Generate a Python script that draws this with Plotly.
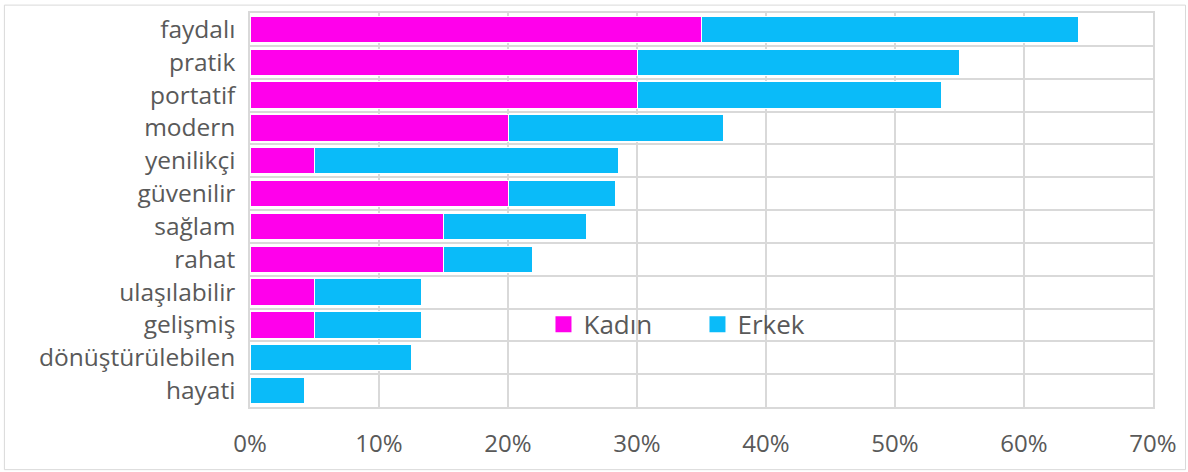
import plotly.graph_objects as go

# attributes, top to bottom as shown
words = ["faydalı", "pratik", "portatif", "modern", "yenilikçi", "güvenilir",
         "sağlam", "rahat", "ulaşılabilir", "gelişmiş", "dönüştürülebilen", "hayati"]
kadin = [35, 30, 30, 20, 5, 20, 15, 15, 5, 5, 0, 0]
erkek = [29.2, 25.0, 23.6, 16.7, 23.6, 8.3, 11.1, 6.9, 8.3, 8.3, 12.5, 4.2]

MAGENTA = "#FF00EB"
CYAN = "#0ABBF9"
GRID = "#D9D9D9"
TEXT = "#595959"
FONT = "Open Sans"

fig = go.Figure()
fig.add_trace(go.Bar(y=words, x=kadin, orientation="h", name="Kadın",
                     marker=dict(color=MAGENTA, line=dict(color="white", width=1)),
                     showlegend=False))
fig.add_trace(go.Bar(y=words, x=erkek, orientation="h", name="Erkek",
                     marker=dict(color=CYAN, line=dict(color="white", width=1)),
                     showlegend=False))

# legend entries with bigger square swatches
for name, col in [("Kadın", MAGENTA), ("Erkek", CYAN)]:
    fig.add_trace(go.Scatter(x=[None], y=[None], mode="markers", name=name,
                             marker=dict(symbol="square", size=17, color=col)))

fig.update_layout(
    width=1188, height=472,
    barmode="stack", bargap=0.2,
    plot_bgcolor="white", paper_bgcolor="white",
    margin=dict(l=250, r=35, t=11, b=65),
    font=dict(family=FONT, color=TEXT, size=24),
    legend=dict(orientation="h", x=0.325, y=0.21, xanchor="left", yanchor="middle",
                traceorder="normal", bgcolor="rgba(0,0,0,0)",
                font=dict(size=26, color=TEXT),
                entrywidth=109, entrywidthmode="pixels", itemclick=False),
)
fig.update_xaxes(range=[0, 70], dtick=10, ticksuffix="%", showgrid=True,
                 gridcolor=GRID, gridwidth=1.5, zeroline=False,
                 showline=True, mirror=True, linecolor=GRID, linewidth=1.5,
                 ticklabelstandoff=14, tickfont=dict(size=24, color=TEXT))
fig.update_yaxes(type="category", autorange="reversed", tickson="boundaries",
                 showgrid=True, gridcolor=GRID, gridwidth=1.5,
                 showline=True, mirror=True, linecolor=GRID, linewidth=1.5,
                 ticks="", ticklabelstandoff=8, tickfont=dict(size=24.5, color=TEXT))

# outer chart border
fig.add_shape(type="rect", xref="paper", yref="paper",
              x0=-0.272, x1=1.036, y0=-0.159, y1=1.02,
              line=dict(color=GRID, width=1))

fig.write_html("out.html", config={"displayModeBar": False},
               post_script="document.body.style.margin='0';")
